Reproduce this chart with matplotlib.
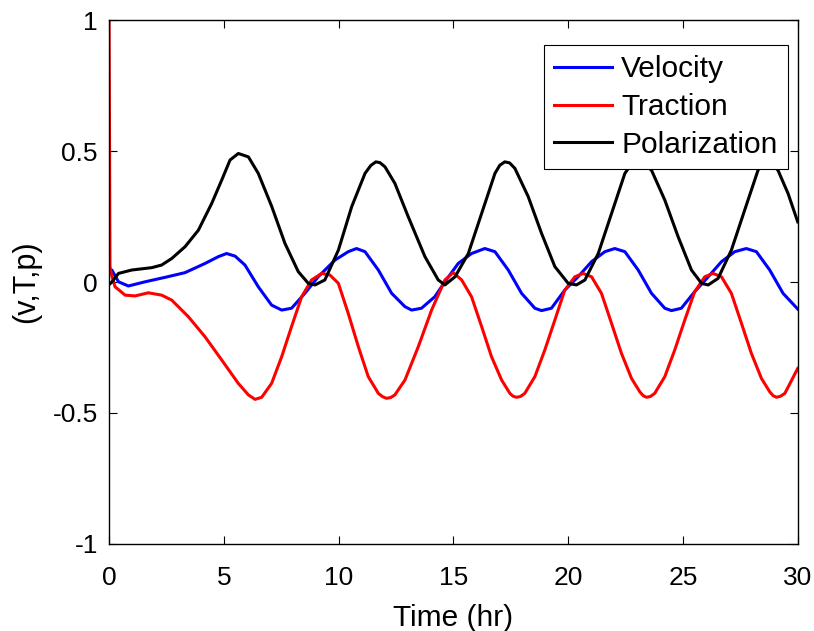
import matplotlib
matplotlib.use("Agg")
import matplotlib.pyplot as plt

plt.rcParams['font.family'] = ['Liberation Sans', 'DejaVu Sans']

# Velocity
t_vel = [0.0, 0.12, 0.41, 0.84, 1.57, 2.44, 3.31, 4.18, 4.76, 5.12, 5.49, 5.92, 6.5,
         7.08, 7.52, 7.95, 8.53, 9.11, 9.84, 10.42, 10.78, 11.15, 11.73, 12.31, 12.89,
         13.18, 13.61, 14.19, 14.63, 15.21, 15.79, 16.37, 16.81, 17.39, 17.97, 18.55,
         18.84, 19.27, 19.85, 20.43, 21.02, 21.6, 22.03, 22.47, 23.05, 23.63, 24.21,
         24.5, 24.93, 25.51, 26.1, 26.68, 27.26, 27.76, 28.2, 28.78, 29.36, 30.0]
velocity = [0.03, 0.046, 0.001, -0.015, 0.001, 0.018, 0.036, 0.071, 0.097, 0.109,
            0.099, 0.065, -0.018, -0.088, -0.107, -0.1, -0.043, 0.02, 0.084, 0.116,
            0.128, 0.116, 0.046, -0.043, -0.094, -0.107, -0.1, -0.056, 0.001, 0.071,
            0.109, 0.128, 0.116, 0.046, -0.043, -0.1, -0.109, -0.1, -0.031, 0.02,
            0.078, 0.116, 0.128, 0.116, 0.046, -0.043, -0.1, -0.109, -0.1, -0.037,
            0.02, 0.078, 0.116, 0.128, 0.116, 0.046, -0.043, -0.103]

# Traction
t_trac = [0.0, 0.04, 0.09, 0.26, 0.7, 1.13, 1.71, 2.29, 2.73, 3.45, 4.18, 4.91, 5.63,
          6.07, 6.36, 6.65, 7.08, 7.52, 7.95, 8.39, 8.82, 9.26, 9.62, 9.99, 10.42,
          10.86, 11.29, 11.73, 11.92, 12.09, 12.27, 12.45, 12.89, 13.47, 14.05, 14.63,
          14.99, 15.36, 15.79, 16.23, 16.66, 17.1, 17.46, 17.6, 17.75, 17.92, 18.11,
          18.55, 18.98, 19.42, 19.85, 20.29, 20.65, 21.02, 21.45, 21.89, 22.32, 22.76,
          23.12, 23.27, 23.41, 23.58, 23.77, 24.21, 24.64, 25.08, 25.51, 25.95, 26.31,
          26.68, 27.11, 27.55, 27.98, 28.42, 28.78, 28.93, 29.07, 29.25, 29.44, 30.0]
traction = [1.0, 0.06, 0.033, -0.018, -0.05, -0.053, -0.041, -0.05, -0.069, -0.132,
            -0.209, -0.298, -0.387, -0.431, -0.448, -0.44, -0.387, -0.285, -0.17,
            -0.056, 0.008, 0.033, 0.027, -0.005, -0.12, -0.247, -0.361, -0.425, -0.438,
            -0.444, -0.441, -0.431, -0.374, -0.247, -0.107, 0.008, 0.036, 0.008,
            -0.056, -0.17, -0.285, -0.374, -0.425, -0.436, -0.44, -0.437, -0.425,
            -0.361, -0.26, -0.145, -0.031, 0.02, 0.033, 0.02, -0.043, -0.158, -0.272,
            -0.368, -0.419, -0.434, -0.44, -0.437, -0.425, -0.361, -0.26, -0.145,
            -0.037, 0.02, 0.033, 0.02, -0.043, -0.158, -0.272, -0.368, -0.419, -0.434,
            -0.44, -0.436, -0.425, -0.33]

# Polarization
t_pol = [0.0, 0.12, 0.41, 0.99, 1.86, 2.29, 2.73, 3.31, 3.89, 4.47, 4.91, 5.27, 5.63,
         6.07, 6.5, 7.08, 7.66, 8.24, 8.68, 8.97, 9.4, 9.99, 10.57, 11.15, 11.4,
         11.62, 11.8, 12.02, 12.45, 13.03, 13.76, 14.34, 14.63, 15.07, 15.65, 16.23,
         16.81, 17.02, 17.24, 17.45, 17.68, 18.26, 18.84, 19.42, 20.0, 20.36, 20.73,
         21.31, 21.89, 22.47, 22.75, 23.0, 23.25, 23.63, 24.21, 24.79, 25.37, 25.81,
         26.1, 26.53, 27.11, 27.69, 28.27, 28.45, 28.65, 28.85, 29.14, 29.58, 30.0]
polarization = [-0.01, 0.0, 0.033, 0.046, 0.055, 0.065, 0.09, 0.135, 0.198, 0.30,
                0.39, 0.466, 0.491, 0.478, 0.415, 0.29, 0.148, 0.04, -0.005, -0.011,
                0.008, 0.122, 0.288, 0.415, 0.445, 0.459, 0.456, 0.44, 0.377, 0.25,
                0.097, 0.008, -0.011, 0.02, 0.109, 0.262, 0.415, 0.446, 0.459, 0.455,
                0.434, 0.326, 0.186, 0.059, -0.005, -0.011, 0.008, 0.109, 0.262, 0.415,
                0.45, 0.462, 0.455, 0.427, 0.313, 0.173, 0.046, -0.005, -0.011, 0.014,
                0.122, 0.275, 0.427, 0.45, 0.46, 0.452, 0.427, 0.338, 0.23]

x_ticks = [0, 5, 10, 15, 20, 25, 30]
y_ticks = [-1, -0.5, 0, 0.5, 1]
y_ticklabels = ['-1', '-0.5', '0', '0.5', '1']

fig = plt.figure(figsize=(8.14, 6.31), dpi=100)
ax = fig.add_axes([0.134, 0.138, 0.846, 0.830])

ax.plot(t_vel, velocity, color='#0000ff', lw=2.2, label='Velocity')
ax.plot(t_trac, traction, color='#ff0000', lw=2.2, label='Traction')
ax.plot(t_pol, polarization, color='#000000', lw=2.2, label='Polarization')

ax.set_xlim(0, 30)
ax.set_ylim(-1, 1)
ax.set_xticks(x_ticks)
ax.set_yticks(y_ticks)
ax.set_yticklabels(y_ticklabels)
ax.tick_params(direction='in', length=6, width=0.8, top=True, right=True,
               labelsize=19)
ax.tick_params(axis='x', pad=16)
ax.tick_params(axis='y', pad=8)
for s in ax.spines.values():
    s.set_linewidth(1.0)

ax.set_xlabel('Time (hr)', fontsize=21.5, labelpad=10)
ax.set_ylabel('(v,T,p)', fontsize=22, labelpad=8)

leg = ax.legend(loc='upper right', bbox_to_anchor=(0.9855, 0.952),
                borderaxespad=0, fontsize=21.5, frameon=True, fancybox=False,
                framealpha=1, edgecolor='black', handlelength=1.94,
                handletextpad=0.3, labelspacing=0.32, borderpad=0.34)
leg.get_frame().set_linewidth(0.8)

fig.savefig('out.png', dpi=100)
